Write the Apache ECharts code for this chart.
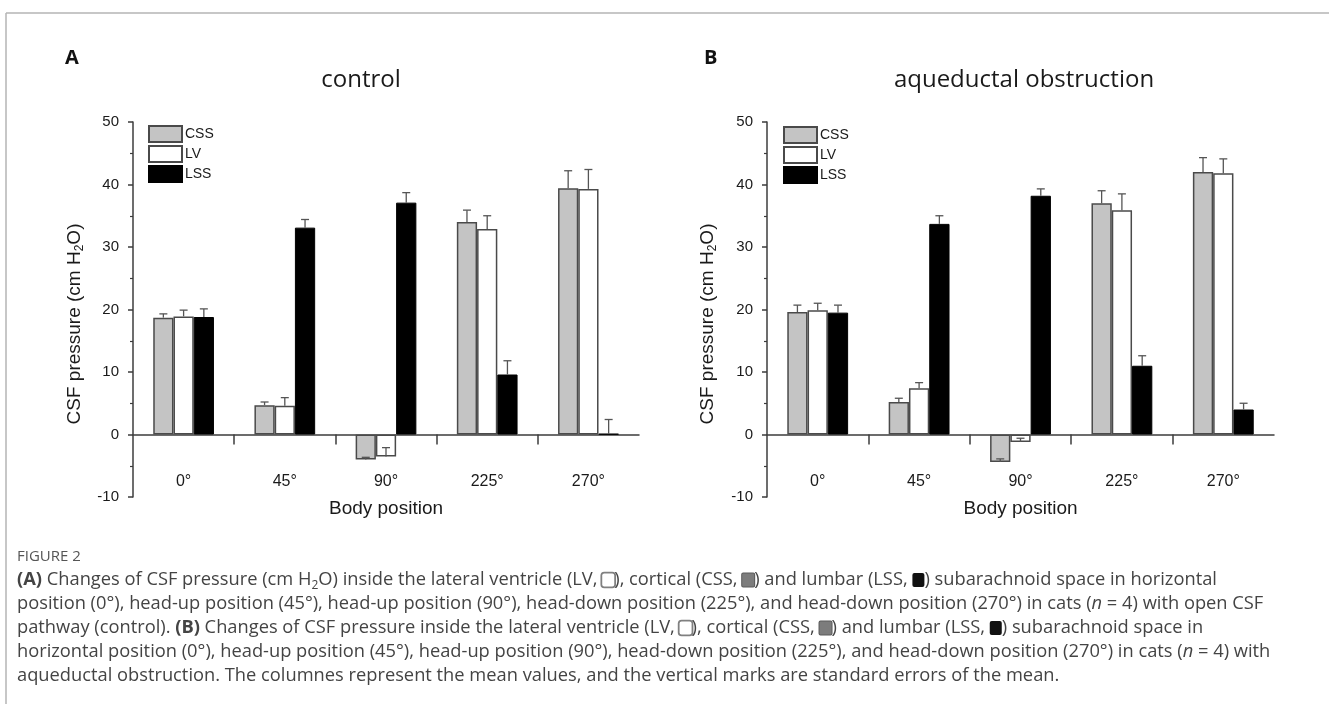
<!DOCTYPE html>
<html><head><meta charset="utf-8">
<script src="https://cdn.jsdelivr.net/npm/echarts@6/dist/echarts.min.js"></script>
<style>html,body{margin:0;padding:0;background:#fff}#c{width:1329px;height:704px}</style>
</head><body><div id="c"></div>
<script>
// ---------- data ----------
const categories = ['0°', '45°', '90°', '225°', '270°'];
const seriesNames = ['CSS', 'LV', 'LSS'];
const yMin = -10, yMax = 50, yStep = 10;

// Panel A: control
const controlCSS    = [18.7, 4.7, -4.0, 34.0, 39.4];
const controlCSS_SE = [0.6, 0.5, 0.35, 1.9, 2.8];
const controlLV     = [18.9, 4.6, -3.5, 32.9, 39.3];
const controlLV_SE  = [1.0, 1.3, 1.4, 2.1, 3.1];
const controlLSS    = [18.8, 33.1, 37.1, 9.6, 0.1];
const controlLSS_SE = [1.3, 1.3, 1.6, 2.2, 2.3];

// Panel B: aqueductal obstruction
const obstrCSS    = [19.6, 5.2, -4.4, 37.0, 42.0];
const obstrCSS_SE = [1.1, 0.6, 0.5, 2.0, 2.3];
const obstrLV     = [19.9, 7.4, -1.2, 35.9, 41.8];
const obstrLV_SE  = [1.1, 0.9, 0.6, 2.6, 2.3];
const obstrLSS    = [19.5, 33.7, 38.2, 11.0, 4.0];
const obstrLSS_SE = [1.2, 1.3, 1.1, 1.6, 1.0];

const boundaryTicks = [1, 2, 3, 4];

// ---------- styles ----------
const AX = '#3c3c3c';
const FONT = '"Liberation Sans", Arial, sans-serif';
const barStyles = [
  { color: '#c4c4c4', borderColor: '#4a4a4a', borderWidth: 1.5 },
  { color: '#ffffff', borderColor: '#4a4a4a', borderWidth: 1.5 },
  { color: '#000000', borderColor: '#000000', borderWidth: 1 }
];
const BAR_FRAC = 0.6;

function grid(left, width) { return { left: left, top: 122, width: width, height: 375, containLabel: false }; }

function catAxis(gi) {
  return {
    type: 'category', gridIndex: gi, data: categories, boundaryGap: true,
    axisLine: { onZero: true, onZeroAxisIndex: gi, lineStyle: { color: AX, width: 1.5 } },
    axisTick: { show: false },
    axisLabel: { margin: -23, fontSize: 16, color: '#1a1a1a', fontFamily: FONT },
    name: 'Body position', nameLocation: 'middle', nameGap: 2,
    nameTextStyle: { fontSize: 19, color: '#1a1a1a', fontFamily: FONT },
    splitLine: { show: false }
  };
}
function tickAxis(gi) {
  return {
    type: 'value', gridIndex: gi, min: 0, max: categories.length, position: 'bottom',
    axisLine: { show: false, onZero: true, onZeroAxisIndex: gi },
    axisTick: { show: true, customValues: boundaryTicks, length: 10, lineStyle: { color: AX, width: 1.5 } },
    axisLabel: { show: false }, splitLine: { show: false }
  };
}
function valAxis(gi) {
  return {
    type: 'value', gridIndex: gi, min: yMin, max: yMax, interval: yStep,
    axisLine: { show: true, onZero: false, lineStyle: { color: AX, width: 1.5 } },
    axisTick: { show: true, length: 5, lineStyle: { color: AX, width: 1.5 } },
    minorTick: { show: true, splitNumber: 2, length: 3, lineStyle: { color: AX, width: 1.2 } },
    axisLabel: { margin: 14, fontSize: 15, color: '#1a1a1a', fontFamily: FONT },
    splitLine: { show: false }, minorSplitLine: { show: false }
  };
}

function barSeries(name, vals, k, xi, yi) {
  return {
    type: 'bar', name: name, xAxisIndex: xi, yAxisIndex: yi, data: vals,
    barGap: '0%', barCategoryGap: '40%', itemStyle: barStyles[k], z: 2,
    emphasis: { disabled: true }
  };
}
function errSeries(vals, ses, k, xi, yi) {
  return {
    type: 'custom', xAxisIndex: xi, yAxisIndex: yi, z: 3, silent: true,
    data: vals.map((v, i) => [i, v, ses[i]]),
    encode: { x: 0, y: 1 },
    renderItem: function (params, api) {
      const ci = api.value(0), v = api.value(1), se = api.value(2);
      const band = api.size([1, 0])[0];
      const bw = band * BAR_FRAC / 3;
      const p0 = api.coord([ci, v]);
      const p1 = api.coord([ci, v + se]);
      const x = p0[0] + (k - 1) * bw;
      const cap = 4;
      const st = { stroke: '#555', lineWidth: 1.3 };
      return { type: 'group', children: [
        { type: 'line', shape: { x1: x, y1: p0[1], x2: x, y2: p1[1] }, style: st },
        { type: 'line', shape: { x1: x - cap, y1: p1[1], x2: x + cap, y2: p1[1] }, style: st }
      ]};
    }
  };
}

const panelA = [[controlCSS, controlCSS_SE], [controlLV, controlLV_SE], [controlLSS, controlLSS_SE]];
const panelB = [[obstrCSS, obstrCSS_SE], [obstrLV, obstrLV_SE], [obstrLSS, obstrLSS_SE]];

const series = [];
[[panelA, 0, 0], [panelB, 2, 1]].forEach(([panel, xi, yi]) => {
  panel.forEach(([vals, ses], k) => {
    series.push(barSeries(seriesNames[k], vals, k, xi, yi));
  });
  panel.forEach(([vals, ses], k) => {
    series.push(errSeries(vals, ses, k, xi, yi));
  });
});

function legend(left, top) {
  return {
    left: left, top: top, orient: 'vertical', data: seriesNames, icon: 'rect',
    itemWidth: 33, itemHeight: 16, itemGap: 2, padding: 0, selectedMode: false,
    textStyle: { fontSize: 14, color: '#1a1a1a', fontFamily: FONT, padding: [0, 0, 0, -2] }
  };
}

// ---------- caption helpers ----------
const CAP_FONT = '"Open Sans", sans-serif';
const CAP_SIZE = 18.3;
const CAP_COLOR = '#444';
const base = { fontSize: CAP_SIZE, fontFamily: CAP_FONT, color: CAP_COLOR, lineHeight: 24 };
const capRich = {
  n: Object.assign({}, base),
  b: Object.assign({}, base, { fontWeight: 'bold' }),
  i: Object.assign({}, base, { fontStyle: 'italic' }),
  s: { fontSize: 12, fontFamily: CAP_FONT, color: CAP_COLOR, verticalAlign: 'bottom', lineHeight: 16 },
  bw: { width: 12, height: 13, backgroundColor: '#fff', borderColor: '#808080', borderWidth: 1.8, borderRadius: 2 },
  bh: { width: 12, height: 13, backgroundColor: '#7c7c7c', borderColor: '#5a5a5a', borderWidth: 1, borderRadius: 1 },
  bk: { width: 12, height: 14, backgroundColor: '#111', borderRadius: 2 }
};
const captionLines = [
  '{b|(A)}{n| Changes of CSF pressure (cm H}{s|2}{n|O) inside the lateral ventricle (LV, }{bw| }{n|), cortical (CSS, }{bh| }{n|) and lumbar (LSS, }{bk| }{n|) subarachnoid space in horizontal}',
  '{n|position (0°), head-up position (45°), head-up position (90°), head-down position (225°), and head-down position (270°) in cats (}{i|n}{n| = 4) with open CSF}',
  '{n|pathway (control). }{b|(B)}{n| Changes of CSF pressure inside the lateral ventricle (LV, }{bw| }{n|), cortical (CSS, }{bh| }{n|) and lumbar (LSS, }{bk| }{n|) subarachnoid space in}',
  '{n|horizontal position (0°), head-up position (45°), head-up position (90°), head-down position (225°), and head-down position (270°) in cats (}{i|n}{n| = 4) with}',
  '{n|aqueductal obstruction. The columnes represent the mean values, and the vertical marks are standard errors of the mean.}'
];

const graphics = [
  { type: 'line', shape: { x1: 6, y1: 13, x2: 1329, y2: 13 }, style: { stroke: '#b4b4b4', lineWidth: 1.5 }, silent: true },
  { type: 'line', shape: { x1: 6, y1: 13, x2: 6, y2: 704 }, style: { stroke: '#b4b4b4', lineWidth: 1.5 }, silent: true },
  { type: 'text', x: 65, y: 58, style: { text: 'A', fontSize: 20, fontWeight: 'bold', fontFamily: CAP_FONT, fill: '#111', textVerticalAlign: 'middle' } },
  { type: 'text', x: 704, y: 58, style: { text: 'B', fontSize: 20, fontWeight: 'bold', fontFamily: CAP_FONT, fill: '#111', textVerticalAlign: 'middle' } },
  { type: 'text', x: 361, y: 80, style: { text: 'control', fontSize: 24, fontFamily: CAP_FONT, fill: '#1a1a1a', textAlign: 'center', textVerticalAlign: 'middle' } },
  { type: 'text', x: 1024, y: 80, style: { text: 'aqueductal obstruction', fontSize: 24, fontFamily: CAP_FONT, fill: '#1a1a1a', textAlign: 'center', textVerticalAlign: 'middle' } },
  { type: 'text', x: 17, y: 557, style: { text: 'FIGURE 2', fontSize: 15, fontFamily: CAP_FONT, fill: '#555', textVerticalAlign: 'middle' } }
];
[75, 708].forEach(cx => {
  graphics.push({
    type: 'text', x: cx, y: 324, rotation: Math.PI / 2,
    style: {
      text: '{n|CSF pressure (cm H}{s|2}{n|O)}', fontSize: 19, fontFamily: FONT, fill: '#1a1a1a',
      textAlign: 'center', textVerticalAlign: 'middle',
      rich: {
        n: { fontSize: 19, fontFamily: FONT, color: '#1a1a1a', lineHeight: 22 },
        s: { fontSize: 12, fontFamily: FONT, color: '#1a1a1a', lineHeight: 12, verticalAlign: 'bottom' }
      }
    }
  });
});
captionLines.forEach((t, i) => {
  graphics.push({
    type: 'text', x: 17, y: 580 + i * 24,
    style: { text: t, rich: capRich, fontSize: CAP_SIZE, fontFamily: CAP_FONT, fill: CAP_COLOR, textVerticalAlign: 'middle' }
  });
});

const chart = echarts.init(document.getElementById('c'), null, { renderer: 'canvas' });
chart.setOption({
  animation: false,
  backgroundColor: '#ffffff',
  grid: [grid(133, 506), grid(767, 507)],
  xAxis: [catAxis(0), tickAxis(0), catAxis(1), tickAxis(1)],
  yAxis: [valAxis(0), valAxis(1)],
  legend: [legend(148, 125), legend(783, 126)],
  series: series,
  graphic: graphics
});
</script></body></html>
